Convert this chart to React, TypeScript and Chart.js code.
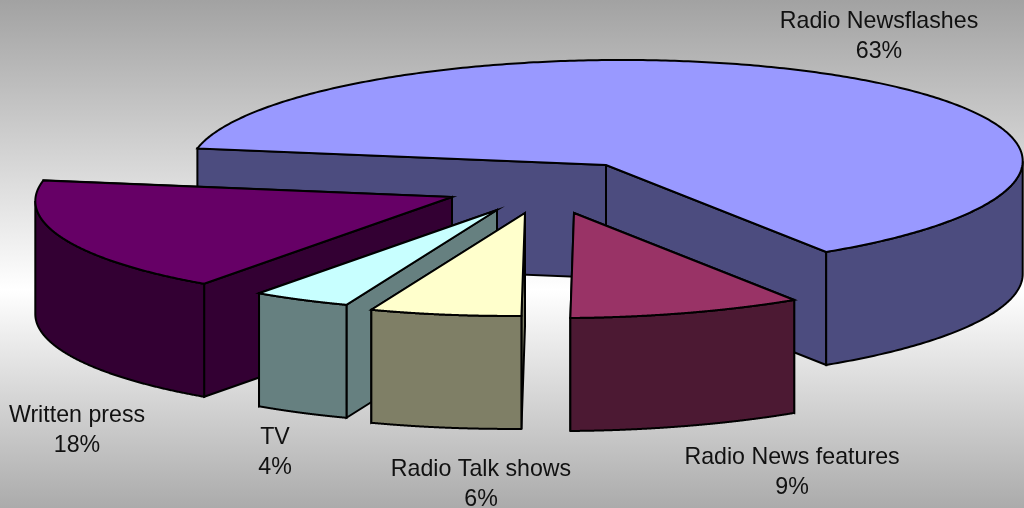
import React, { useEffect, useRef } from "react";
import { Chart, registerables } from "chart.js";

Chart.register(...registerables);

const categories = ["Radio Newsflashes", "Radio News features", "Radio Talk shows", "TV", "Written press"];
const shares = [63, 9, 6, 4, 18];
const topColors = ["#9999FF", "#993366", "#FFFFCC", "#C8FFFF", "#660066"];
const sideColors = ["#4C4C7F", "#4C1933", "#7F7F66", "#668080", "#330033"];

// Style: where each exploded slice's apex lands, its size, and where its label sits.
const sliceApex = [[606, 165], [574, 213], [525, 213], [497, 210], [452, 197]];
const sliceScale = [1, 1, 0.98, 0.96, 1];
const labelCentres = [[879, 22], [792, 458], [481, 470], [275, 438], [77, 416]];
const paintOrder = [0, 4, 3, 2, 1];

// Tilted-disc projection of the unit circle onto the page.
const TILT = { a: 416, b: -24, c: 2, d: 105 };
const DEPTH = 113;
const LABEL_LINE = 29.5;

const pieProjection = {
  id: "pieProjection",
  beforeDraw(chart: any) {
    const { ctx, width, height } = chart;
    const g = ctx.createLinearGradient(0, 0, 0, height);
    g.addColorStop(0, "#A2A2A2");
    g.addColorStop(0.57, "#FFFFFF");
    g.addColorStop(1, "#ABABAB");
    ctx.save();
    ctx.fillStyle = g;
    ctx.fillRect(0, 0, width, height);
    ctx.restore();
  },
  beforeDatasetsDraw(chart: any) {
    const { ctx } = chart;
    const arcs = chart.getDatasetMeta(0).data;
    ctx.save();
    ctx.lineWidth = 2;
    ctx.lineJoin = "miter";
    ctx.strokeStyle = "#000000";

    for (const i of paintOrder) {
      const arc = arcs[i];
      const { x, y, startAngle, endAngle, outerRadius: R } = arc.getProps(
        ["x", "y", "startAngle", "endAngle", "outerRadius"],
        true
      );
      const [tx, ty] = sliceApex[i];
      const s = sliceScale[i];
      const a = TILT.a * s;
      const b = TILT.b * s;
      const c = TILT.c * s;
      const d = TILT.d * s;
      const at = (t: number, drop = 0) => [
        tx + a * Math.cos(t) + b * Math.sin(t),
        ty + c * Math.cos(t) + d * Math.sin(t) + drop,
      ];
      const poly = (pts: number[][], fill: string | null) => {
        ctx.beginPath();
        pts.forEach((p, k) => (k ? ctx.lineTo(p[0], p[1]) : ctx.moveTo(p[0], p[1])));
        ctx.closePath();
        if (fill) {
          ctx.fillStyle = fill;
          ctx.fill();
        }
        ctx.stroke();
      };

      // cut faces, the one further back first
      const cuts = [startAngle, endAngle].sort((p, q) => at(p)[1] - at(q)[1]);
      for (const t of cuts) {
        poly([[tx, ty], at(t), at(t, DEPTH), [tx, ty + DEPTH]], sideColors[i]);
      }

      // outer wall: only the stretch of rim facing the viewer
      const steps = 360;
      const front: number[] = [];
      const rim: number[] = [];
      for (let k = 0; k <= steps; k++) {
        const t = startAngle + ((endAngle - startAngle) * k) / steps;
        rim.push(t);
        if (-a * Math.sin(t) + b * Math.cos(t) < 0) front.push(t);
      }
      if (front.length > 1) {
        poly(
          [...front.map((t) => at(t)), ...front.slice().reverse().map((t) => at(t, DEPTH))],
          sideColors[i]
        );
      }

      // top face: the library's own arc, under the slice's transform
      ctx.save();
      ctx.transform(
        a / R,
        c / R,
        b / R,
        d / R,
        tx - (a * x + b * y) / R,
        ty - (c * x + d * y) / R
      );
      arc.draw(ctx);
      ctx.restore();
      ctx.beginPath();
      ctx.moveTo(tx, ty);
      rim.forEach((t) => {
        const p = at(t);
        ctx.lineTo(p[0], p[1]);
      });
      ctx.closePath();
      ctx.stroke();
    }

    // labels
    ctx.fillStyle = "#111111";
    ctx.font = '23.2px "Liberation Sans", Arial, sans-serif';
    ctx.textAlign = "center";
    ctx.textBaseline = "middle";
    categories.forEach((name, i) => {
      const [lx, ly] = labelCentres[i];
      ctx.fillText(name, lx, ly);
      ctx.fillText(`${shares[i]}%`, lx, ly + LABEL_LINE);
    });
    ctx.restore();
    return false;
  },
};

export default function App() {
  const ref = useRef<HTMLCanvasElement>(null);
  useEffect(() => {
    const chart = new Chart(ref.current as HTMLCanvasElement, {
      type: "pie",
      data: {
        labels: categories,
        datasets: [{ data: shares, backgroundColor: topColors, borderWidth: 0 }],
      },
      options: {
        animation: false,
        responsive: false,
        devicePixelRatio: 1,
        rotation: 278,
        plugins: { legend: { display: false }, tooltip: { enabled: false } },
      },
      plugins: [pieProjection],
    } as any);
    return () => chart.destroy();
  }, []);
  return (
    <div style={{ position: "fixed", left: 0, top: 0, width: 1024, height: 508 }}>
      <canvas ref={ref} width={1024} height={508} style={{ display: "block" }} />
    </div>
  );
}
